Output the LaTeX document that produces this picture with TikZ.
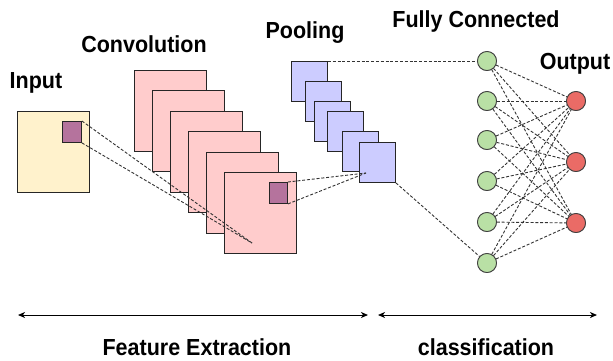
\documentclass[tikz,border=0pt]{standalone}
\usepackage{fontspec}
\setmainfont{Liberation Sans}
\usetikzlibrary{arrows.meta}
\definecolor{inyellow}{HTML}{FFF2CC}
\definecolor{convpink}{HTML}{FFCCCC}
\definecolor{patchpurple}{HTML}{B5739D}
\definecolor{poolblue}{HTML}{CCCCFF}
\definecolor{fcgreen}{HTML}{B9E0A5}
\definecolor{outred}{HTML}{EA6B66}
\begin{document}
\begin{tikzpicture}[
        x=1pt, y=-1pt, % 1 unit = 1 pixel, y grows downwards
        map/.style = {draw=black!85, line width=0.9pt, anchor=north west, inner sep=0pt},
        patch/.style = {map, fill=patchpurple, minimum width=19pt, minimum height=21pt},
        neuron/.style = {circle, draw=black!75, line width=0.8pt, minimum size=19pt, inner sep=0pt},
        link/.style = {draw=black!80, dashed, dash pattern=on 3pt off 1.8pt, line width=0.9pt},
        title/.style = {font=\bfseries\fontsize{21.5}{24}\selectfont, yscale=1.08},
        span/.style = {draw, line width=1pt, {Stealth[length=7pt,width=6pt,inset=2pt]}-{Stealth[length=7pt,width=6pt,inset=2pt]}},
    ]
    \useasboundingbox (0,0) rectangle (613,360);

    % Input
    \node[map, fill=inyellow, minimum width=72pt, minimum height=81pt] (in) at (17,111) {};
    \node[patch] (inpatch) at (62,121) {};

    % Convolution maps
    \foreach \i in {0,...,5}
        \node[map, fill=convpink, minimum width=72pt, minimum height=81pt] (conv\i) at ({134+18*\i},{70+20.4*\i}) {};
    \node[patch, minimum width=18pt] (convpatch) at (269,182) {};

    % Pooling maps
    \foreach \x/\y [count=\i] in {291/61, 305/81, 314/101, 327/111, 342/131, 359/142}
        \node[map, fill=poolblue, minimum width=36pt, minimum height=40pt] (pool\i) at (\x,\y) {};

    % Fully connected and output layers
    \foreach \y [count=\i] in {61, 101, 140, 181, 222, 263}
        \node[neuron, fill=fcgreen] (fc\i) at (487,\y) {};
    \foreach \y [count=\j] in {101, 162, 223}
        \node[neuron, fill=outred] (out\j) at (576,\y) {};

    \coordinate (convhit) at (252,243);
    \coordinate (poolhit) at (366,173);

    % Receptive fields
    \draw[link] (inpatch.north east) -- (convhit);
    \draw[link] (inpatch.south east) -- (convhit);
    \draw[link] (convpatch.north east) -- (poolhit);
    \draw[link] (convpatch.south east) -- (poolhit);
    \draw[link] (pool1.north east) -- (fc1);
    \draw[link] (pool6.south east) -- (fc6);
    \foreach \i in {1,...,6}
        \foreach \j in {1,2,3}
            \draw[link] (fc\i) -- (out\j);

    % redraw neurons on top of the links
    \foreach \y [count=\i] in {61, 101, 140, 181, 222, 263}
        \node[neuron, fill=fcgreen] at (487,\y) {};
    \foreach \y [count=\j] in {101, 162, 223}
        \node[neuron, fill=outred] at (576,\y) {};

    % Titles
    \node[title] (tin) at (36,83) {Input};
    \node[title] (tconv) at (144,44) {Convolution};
    \node[title] (tpool) at (305,33) {Pooling};
    \node[title] (tfc) at (476,21) {Fully Connected};
    \node[title] (tout) at (575,64) {Output};

    % Stages
    \coordinate (fe1) at (18,315);
    \coordinate (fe2) at (368,315);
    \coordinate (cl1) at (378,315);
    \coordinate (cl2) at (597,315);
    \draw[span] (fe1) -- (fe2);
    \draw[span] (cl1) -- (cl2);
    \node[title] (tfe) at (197,347) {Feature Extraction};
    \node[title] (tcl) at (486,347) {classification};
\end{tikzpicture}
\end{document}
